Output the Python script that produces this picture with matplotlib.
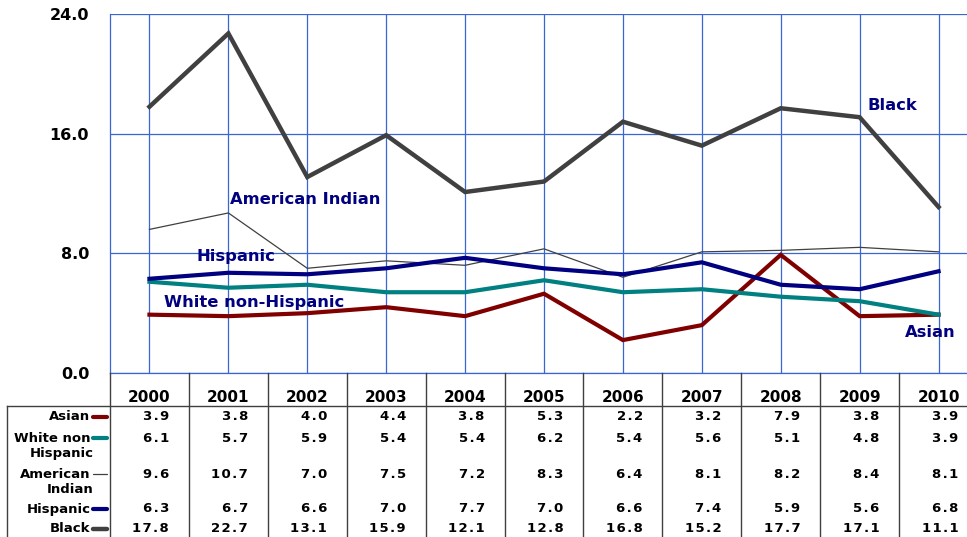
import matplotlib.pyplot as plt
import numpy as np

years = [2000, 2001, 2002, 2003, 2004, 2005, 2006, 2007, 2008, 2009, 2010]
asian = [3.9, 3.8, 4.0, 4.4, 3.8, 5.3, 2.2, 3.2, 7.9, 3.8, 3.9]
white = [6.1, 5.7, 5.9, 5.4, 5.4, 6.2, 5.4, 5.6, 5.1, 4.8, 3.9]
am_indian = [9.6, 10.7, 7.0, 7.5, 7.2, 8.3, 6.4, 8.1, 8.2, 8.4, 8.1]
hispanic = [6.3, 6.7, 6.6, 7.0, 7.7, 7.0, 6.6, 7.4, 5.9, 5.6, 6.8]
black = [17.8, 22.7, 13.1, 15.9, 12.1, 12.8, 16.8, 15.2, 17.7, 17.1, 11.1]

row_labels = [["Asian"], ["White non", "Hispanic"], ["American", "Indian"],
              ["Hispanic"], ["Black"]]
series = [asian, white, am_indian, hispanic, black]
colors = ["#800000", "#008080", "#404040", "#000080", "#404040"]
widths = [3.0, 3.0, 0.9, 3.0, 3.2]

W, H = 967, 537
grid_blue = "#3a66d4"
line_gray = "#404040"


def spaced(s, gap="\u200a"):
    # excel-ish letter spacing in the data table
    return gap.join(s)


fig = plt.figure(figsize=(W / 100, H / 100), dpi=100)
ax = fig.add_axes([110 / W, (H - 373) / H, 868 / W, 359 / H])

x = np.arange(len(years))
for vals, c, lw in zip(series, colors, widths):
    ax.plot(x, vals, color=c, lw=lw, solid_joinstyle="miter", zorder=3)

ax.set_xlim(-0.5, len(years) - 0.5)
ax.set_ylim(0, 24)
ax.set_yticks([0, 8, 16, 24])
ax.set_yticklabels([f"{v:.1f}" for v in [0, 8, 16, 24]],
                   fontsize=11.5, fontweight="bold")
ax.set_xticks(x)
ax.set_xticklabels([])
ax.tick_params(length=0, pad=15)
ax.grid(True, color=grid_blue, lw=0.9)
ax.set_axisbelow(True)
for s in ["top", "right"]:
    ax.spines[s].set_visible(False)
for s in ["left", "bottom"]:
    ax.spines[s].set_color(grid_blue)
    ax.spines[s].set_linewidth(0.9)

# series labels
lab = dict(color="#000080", fontsize=11.8, fontweight="bold", va="center")
ax.text(1.02, 11.6, "American Indian", **lab)
ax.text(0.6, 7.8, "Hispanic", **lab)
ax.text(0.19, 4.73, "White non-Hispanic", **lab)
ax.text(9.1, 17.9, "Black", **lab)
ax.text(9.58, 2.73, "Asian", **lab)

# data table underneath
tab = fig.add_axes([110 / W, 0, 868 / W, 164 / H], sharex=ax)
tab.set_ylim(164, 0)
tab.axis("off")

for i, yr in enumerate(years):
    tab.text(i, 24, str(yr), ha="center", va="center",
             fontsize=11, fontweight="bold")

tab.plot([-1.8, len(years)], [33, 33], color=line_gray, lw=1, clip_on=False)
tab.plot([-1.8, -1.8], [33, 170], color=line_gray, lw=1, clip_on=False)
for i in range(len(years) + 1):
    tab.plot([i - 0.5, i - 0.5], [0, 170], color=line_gray, lw=1,
             clip_on=False)

row_y = [44, 65, 101, 136, 156]
for labels, vals, c, lw, y in zip(row_labels, series, colors, widths, row_y):
    tab.text(-0.75, y, labels[0], ha="right", va="center",
             fontsize=9.5, fontweight="bold", clip_on=False)
    if len(labels) > 1:
        tab.text(-0.71, y + 15.5, labels[1], ha="right", va="center",
                 fontsize=9.5, fontweight="bold", clip_on=False)
    tab.plot([-0.72, -0.54], [y, y], color=c, lw=lw, solid_capstyle="round",
             clip_on=False)
    for i, v in enumerate(vals):
        tab.text(i + 0.25, y, spaced(f"{v:.1f}"), ha="right", va="center",
                 fontsize=9.5, fontweight="bold")

fig.savefig("out.png", dpi=100)
